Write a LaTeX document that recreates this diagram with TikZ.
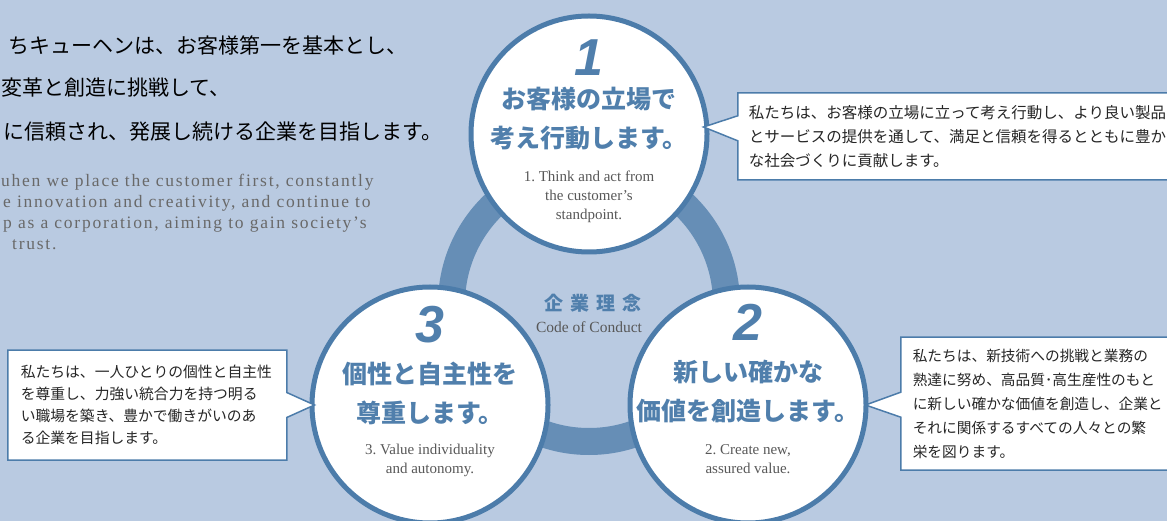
\documentclass[tikz,border=0pt]{standalone}
\usepackage{fontspec}
\setmainfont{Liberation Serif}
\newfontfamily\jpfont{Noto Sans CJK JP}
\newfontfamily\numfont{Liberation Sans}
\newfontfamily\widefont[LetterSpace=10]{Liberation Serif}
\newfontfamily\headfont[LetterSpace=36]{Noto Sans CJK JP}
\usepackage{xcolor}
\usepackage{tikz}
\usetikzlibrary{shapes.callouts}
\definecolor{bgblue}{RGB}{185,202,225}
\definecolor{rimblue}{RGB}{76,124,170}
\definecolor{ringblue}{RGB}{102,142,182}
\definecolor{titleblue}{RGB}{80,127,172}
\definecolor{engray}{RGB}{88,88,88}
\definecolor{leadgray}{RGB}{105,105,105}
\tikzstyle{principle} = [circle, draw=rimblue, line width=5pt, fill=white, minimum size=236pt, inner sep=0pt]
\tikzstyle{numlabel}  = [text=titleblue, font=\numfont\bfseries\itshape\fontsize{52}{52}\selectfont]
\tikzstyle{title}     = [align=center, text=titleblue, font=\jpfont\bfseries\fontsize{25}{39}\selectfont]
\tikzstyle{subtitle}  = [align=center, text=engray, font=\fontsize{15}{19}\selectfont]
\tikzstyle{note}      = [rectangle callout, draw=rimblue, line width=1.5pt, fill=white, align=left, callout pointer width=25pt, inner ysep=0pt, text=black!85]
\tikzset{every node/.style={inner sep=0pt}}
\frenchspacing

\begin{document}
\begin{tikzpicture}[x=1pt, y=-1pt]
    \fill[bgblue] (0,0) rectangle (1167,521);
    \useasboundingbox (0,0) rectangle (1167,521);
    % Lead text (top left)
    \node (lead1) at (8,45)   [anchor=west, font=\jpfont\fontsize{21}{21}\selectfont] {ちキューヘンは、お客様第一を基本とし、};
    \node (lead2) at (1,88)   [anchor=west, font=\jpfont\fontsize{21}{21}\selectfont] {変革と創造に挑戦して、};
    \node (lead3) at (3,132)  [anchor=west, font=\jpfont\fontsize{21}{21}\selectfont] {に信頼され、発展し続ける企業を目指します。};
    \node (leaden) at (1,211.5) [anchor=west, align=left, text=leadgray, font=\widefont\fontsize{17.5}{21}\selectfont]
        {uhen we place the customer first, constantly\\
         \hspace{2pt}e innovation and creativity, and continue to\\
         \hspace{2pt}p as a corporation, aiming to gain society’s\\
         \hspace{11pt}trust.};
    % Ring behind the three circles
    \coordinate (hub) at (589,304);
    \draw[ringblue, line width=27pt] (hub) circle (137.5);
    % Three principles
    \node (c1) at (589,134) [principle] {};
    \node (c2) at (748,405) [principle] {};
    \node (c3) at (430,405) [principle] {};
    \node (n1) at ([yshift=76pt]c1.center)  [numlabel] {1};
    \node (t1) at ([yshift=15pt]c1.center)  [title] {お客様の立場で\\考え行動します。};
    \node (e1) at ([yshift=-63pt]c1.center) [subtitle] {1. Think and act from\\the customer’s\\standpoint.};
    \node (n2) at ([yshift=83pt]c2.center)  [numlabel] {2};
    \node (t2) at ([yshift=14pt]c2.center)  [title] {新しい確かな\\価値を創造します。};
    \node (e2) at ([yshift=-54pt]c2.center) [subtitle] {2. Create new,\\assured value.};
    \node (n3) at ([yshift=80pt]c3.center)  [numlabel] {3};
    \node (t3) at ([yshift=12pt]c3.center)  [title] {個性と自主性を\\尊重します。};
    \node (e3) at ([yshift=-55pt]c3.center) [subtitle] {3. Value individuality\\and autonomy.};
    % Centre label
    \node (head) at (593,303) [text=titleblue, font=\headfont\bfseries\fontsize{19}{19}\selectfont] {企業理念};
    \node (code) at (589,327) [text=engray, font=\fontsize{15.5}{15.5}\selectfont] {Code of Conduct};
    % Callout notes
    \node (note1) at (737,136.5) [note, anchor=west, inner xsep=11pt, text width=420pt, minimum height=87pt,
        font=\jpfont\fontsize{15.5}{24}\selectfont, callout absolute pointer={([xshift=-6pt,yshift=7pt]c1.east)}]
        {私たちは、お客様の立場に立って考え行動し、より良い製品\\とサービスの提供を通して、満足と信頼を得るとともに豊か\\な社会づくりに貢献します。};
    \node (note2) at (900,403.5) [note, anchor=west, inner xsep=12pt, text width=260pt, minimum height=133pt,
        font=\jpfont\fontsize{14.7}{24}\selectfont, callout absolute pointer={([xshift=-3pt]c2.east)}]
        {私たちは、新技術への挑戦と業務の\\熟達に努め、高品質･高生産性のもと\\に新しい確かな価値を創造し、企業と\\それに関係するすべての人々との繁\\栄を図ります。};
    \node (note3) at (7,405) [note, anchor=west, inner xsep=13pt, text width=253pt, minimum height=110pt,
        font=\jpfont\fontsize{14.8}{22}\selectfont, callout absolute pointer={([xshift=5pt]c3.west)}]
        {私たちは、一人ひとりの個性と自主性\\を尊重し、力強い統合力を持つ明る\\い職場を築き、豊かで働きがいのあ\\る企業を目指します。};
\end{tikzpicture}
\end{document}
